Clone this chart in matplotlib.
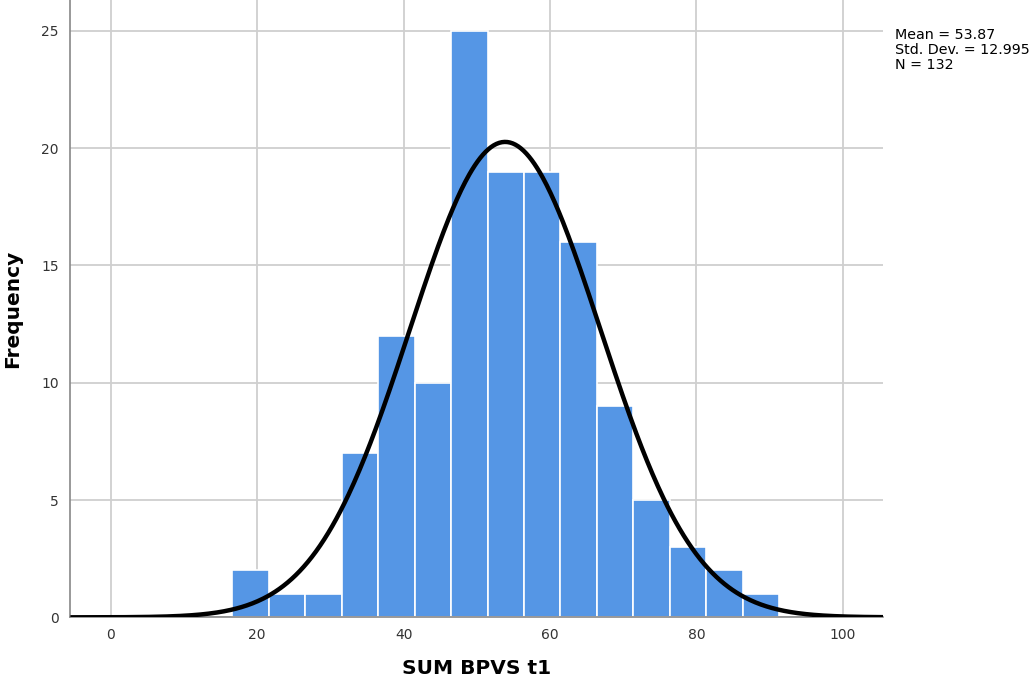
import numpy as np
import matplotlib
matplotlib.use('Agg')
import matplotlib.pyplot as plt

# histogram of SUM BPVS t1
bin_edges = [16.6, 21.58, 26.56, 31.54, 36.52, 41.5, 46.48, 51.46,
             56.44, 61.42, 66.4, 71.38, 76.36, 81.34, 86.32, 91.3]
counts = [2, 1, 1, 7, 12, 10, 25, 19, 19, 16, 9, 5, 3, 2, 1]
mean, sd, n = 53.87, 12.995, 132
bin_width = 5
x_ticks = [0, 20, 40, 60, 80, 100]
y_ticks = [0, 5, 10, 15, 20, 25]

fig = plt.figure(figsize=(10.33, 6.86), dpi=100)
ax = fig.add_axes([0.0678, 0.1001, 0.855 - 0.0678, 0.8999])

edges = np.array(bin_edges)
widths = np.diff(edges)
ax.bar(edges[:-1], counts, width=widths, align='edge', color='#5596e5',
       edgecolor='white', linewidth=1.2, zorder=2)

# normal curve scaled to counts
xs = np.linspace(-5.5, 105.5, 600)
ys = n * bin_width / (sd * np.sqrt(2 * np.pi)) * np.exp(-0.5 * ((xs - mean) / sd) ** 2)
ax.plot(xs, ys, color='black', linewidth=3.2, zorder=3, solid_capstyle='butt')

ax.set_xlim(-5.55, 105.5)
ax.set_ylim(0, 26.31)
ax.set_xticks(x_ticks)
ax.set_yticks(y_ticks)
ax.grid(True, color='#cfcfcf', linewidth=1.3, zorder=0)
ax.set_axisbelow(True)
ax.tick_params(length=0, labelsize=10, labelcolor='#333333', pad=8)
for s in ['top', 'right']:
    ax.spines[s].set_visible(False)
for s in ['left', 'bottom']:
    ax.spines[s].set_color('#888888')
    ax.spines[s].set_linewidth(1.2)

ax.set_xlabel('SUM BPVS t1', fontsize=14.5, fontweight='bold', labelpad=12)
ax.set_ylabel('Frequency', fontsize=14.5, fontweight='bold', labelpad=14)

fig.text(0.866, 0.959, f'Mean = {mean}\nStd. Dev. = {sd}\nN = {n}',
         fontsize=10.3, va='top', ha='left', linespacing=1.1)

plt.savefig('out.png', dpi=100)
plt.close()
